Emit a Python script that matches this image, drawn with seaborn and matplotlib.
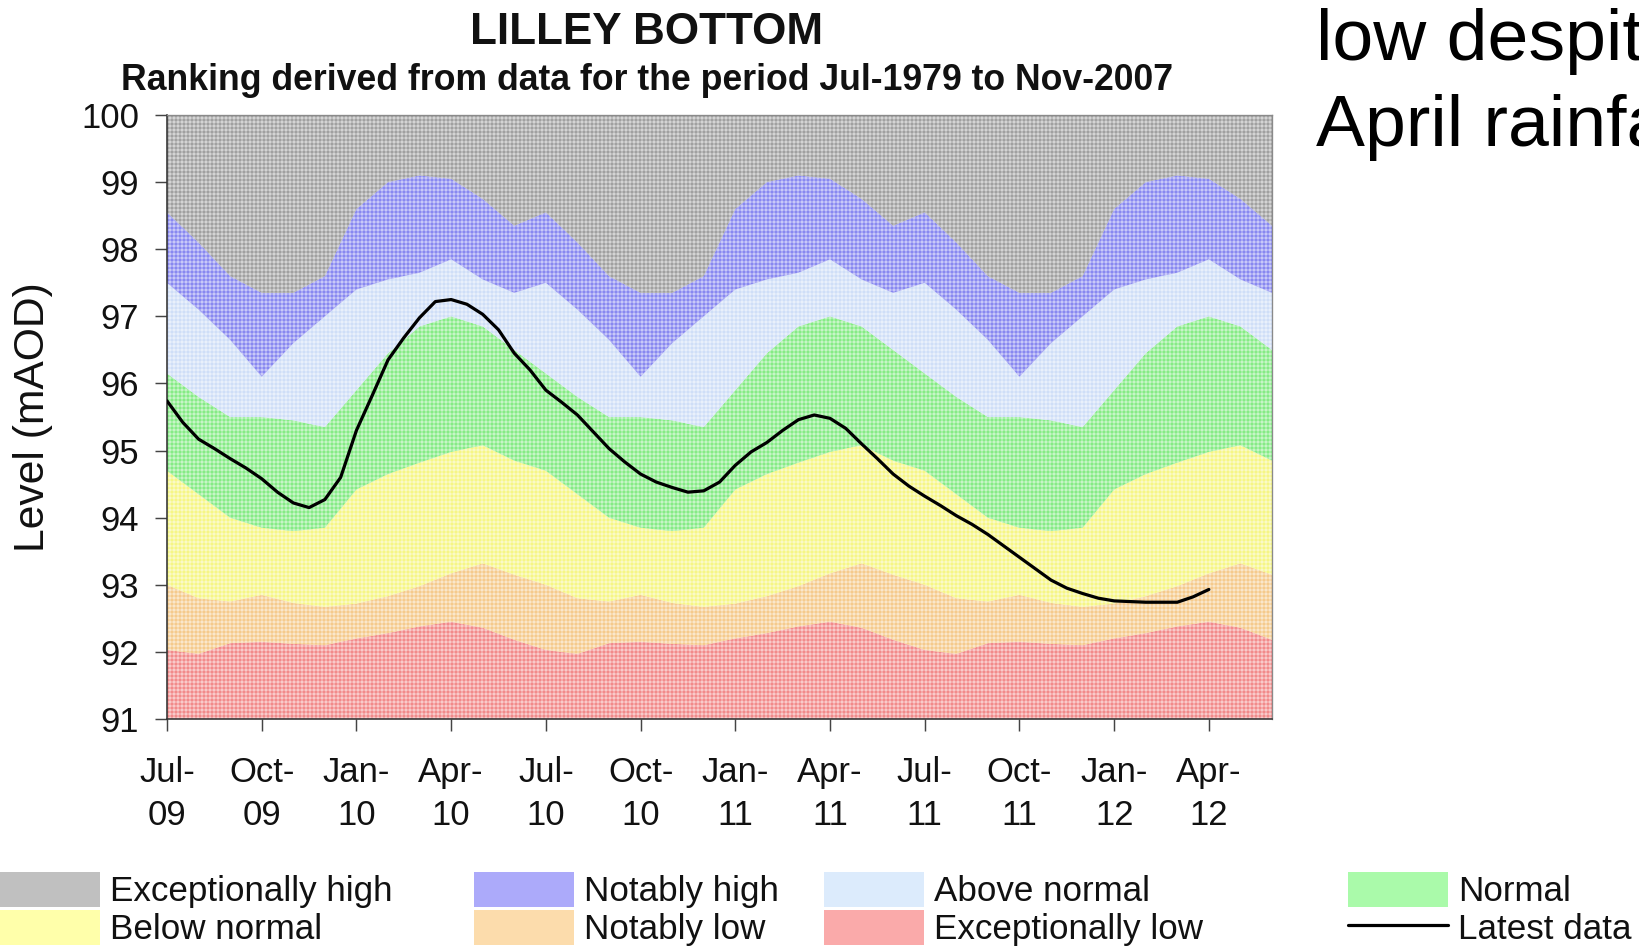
import numpy as np
import pandas as pd
import matplotlib
matplotlib.use("Agg")
import matplotlib.pyplot as plt
import seaborn as sns
from matplotlib.patches import Patch
from matplotlib.lines import Line2D

# ---------------- data ----------------
# seasonal band boundaries (mAOD), months Jul..Jun
season_months = ["Jul", "Aug", "Sep", "Oct", "Nov", "Dec", "Jan", "Feb", "Mar", "Apr", "May", "Jun"]
exc_low_top = [92.03, 91.97, 92.13, 92.15, 92.12, 92.10, 92.20, 92.28, 92.38, 92.45, 92.36, 92.18]
notably_low_top = [93.00, 92.80, 92.75, 92.85, 92.73, 92.67, 92.72, 92.83, 92.98, 93.17, 93.32, 93.15]
below_normal_top = [94.70, 94.35, 94.00, 93.85, 93.80, 93.85, 94.42, 94.65, 94.82, 94.98, 95.08, 94.85]
normal_top = [96.15, 95.80, 95.50, 95.50, 95.45, 95.35, 95.90, 96.45, 96.85, 97.00, 96.85, 96.50]
above_normal_top = [97.50, 97.10, 96.65, 96.10, 96.60, 97.00, 97.40, 97.55, 97.65, 97.85, 97.55, 97.35]
notably_high_top = [98.55, 98.10, 97.60, 97.35, 97.35, 97.60, 98.60, 99.00, 99.10, 99.05, 98.75, 98.35]
n_years = 3  # Jul-2009 .. Jun-2012

# latest data, twice a month (1st and mid-month), Jul-2009 .. Apr-2012
latest_month_offset = [m / 2 for m in range(67)]  # months since 1 Jul 2009
latest_data = [
    95.74, 95.42, 95.17, 95.03, 94.88, 94.74, 94.58, 94.38, 94.22, 94.15, 94.27, 94.60,   # Jul-09..Dec-09
    95.30, 95.82, 96.35, 96.68, 96.98, 97.22, 97.25, 97.18, 97.03, 96.80, 96.45, 96.20,   # Jan-10..Jun-10
    95.90, 95.72, 95.53, 95.28, 95.03, 94.83, 94.65, 94.53, 94.45, 94.38, 94.40, 94.53,   # Jul-10..Dec-10
    94.78, 94.98, 95.12, 95.30, 95.46, 95.53, 95.48, 95.33, 95.10, 94.88, 94.65, 94.47,   # Jan-11..Jun-11
    94.32, 94.18, 94.03, 93.90, 93.75, 93.58, 93.41, 93.24, 93.07, 92.95, 92.87, 92.80,   # Jul-11..Dec-11
    92.76, 92.75, 92.74, 92.74, 92.74, 92.82, 92.93]                                      # Jan-12..Apr-12

tick_labels = ["Jul-\n09", "Oct-\n09", "Jan-\n10", "Apr-\n10", "Jul-\n10", "Oct-\n10",
               "Jan-\n11", "Apr-\n11", "Jul-\n11", "Oct-\n11", "Jan-\n12", "Apr-\n12"]

band_names = ["Exceptionally low", "Notably low", "Below normal", "Normal",
              "Above normal", "Notably high", "Exceptionally high"]
band_face = ["#f28a8a", "#f5ca8c", "#f6f685", "#85eb85", "#cfdef7", "#8888f0", "#a0a0a0"]
legend_face = {"Exceptionally high": "#c0c0c0", "Notably high": "#acaafa",
               "Above normal": "#dcebfc", "Normal": "#aafaaa",
               "Below normal": "#ffffaa", "Notably low": "#fcdcac",
               "Exceptionally low": "#faaaaa"}

# ---------------- figure ----------------
W, H, DPI = 1639, 948, 96
sns.set_style("ticks")
plt.rcParams["font.family"] = ["Liberation Sans", "DejaVu Sans"]
plt.rcParams["hatch.linewidth"] = 0.75

fig = plt.figure(figsize=(W / DPI, H / DPI), dpi=DPI)
ax = fig.add_axes([167 / W, 1 - 719 / H, 1105 / W, 604 / H])

n_months = 12 * n_years
x = np.arange(n_months)
bounds = [np.full(n_months, 91.0)]
for b in [exc_low_top, notably_low_top, below_normal_top, normal_top,
          above_normal_top, notably_high_top]:
    bounds.append(np.tile(b, n_years))
bounds.append(np.full(n_months, 100.0))

for i, name in enumerate(band_names):
    ax.fill_between(x, bounds[i], bounds[i + 1], facecolor=band_face[i],
                    edgecolor=(1, 1, 1, 0.55), hatch="++++", linewidth=0, zorder=1)

df = pd.DataFrame({"month": latest_month_offset, "level": latest_data})
sns.lineplot(data=df, x="month", y="level", color="black", linewidth=2.4,
             ax=ax, zorder=5, legend=False)

ax.set_xlim(0, n_months - 1)
ax.set_ylim(91, 100)
ax.set_yticks(range(91, 101))
ax.set_xticks(range(0, len(tick_labels) * 3, 3))
ax.set_xticklabels(tick_labels, linespacing=1.38)
ax.set_xlabel("")
ax.set_ylabel("")
ax.tick_params(axis="both", direction="out", length=9, width=1.1, color="#444444",
               labelsize=26, labelcolor="#111111")
ax.tick_params(axis="x", pad=19)
ax.tick_params(axis="y", pad=12)
for s in ["left", "bottom"]:
    ax.spines[s].set_color("#333333")
    ax.spines[s].set_linewidth(1.2)
for s in ["top", "right"]:
    ax.spines[s].set_visible(True)
    ax.spines[s].set_color("#8a8a8a")
    ax.spines[s].set_linewidth(1.0)

fig.text(647 / W, 1 - 44 / H, "LILLEY BOTTOM", ha="center", va="baseline",
         fontsize=33, fontweight="bold", color="#111111")
fig.text(647 / W, 1 - 90 / H,
         "Ranking derived from data for the period Jul-1979 to Nov-2007",
         ha="center", va="baseline", fontsize=26.7, fontweight="bold", color="#111111")
fig.text(33 / W, 1 - 417 / H, "Level (mAOD)", rotation=90, ha="center", va="center",
         fontsize=32, color="#111111")

fig.text(1316 / W, 1 - 60 / H, "low despit", ha="left", va="baseline", fontsize=55, color="black")
fig.text(1316 / W, 1 - 146 / H, "April rainfa", ha="left", va="baseline", fontsize=55, color="black")

# legend in four columns
legend_cols = [(0, ["Exceptionally high", "Below normal"]),
               (474, ["Notably high", "Notably low"]),
               (824, ["Above normal", "Exceptionally low"]),
               (1348, ["Normal", "Latest data"])]
fs = 26.25
fs_px = fs * DPI / 72
for xpx, names in legend_cols:
    handles = []
    for nm in names:
        if nm == "Latest data":
            handles.append(Line2D([], [], color="black", linewidth=2.4))
        else:
            handles.append(Patch(facecolor=legend_face[nm], edgecolor="none"))
    leg = fig.legend(handles, names, loc="upper left",
                     bbox_to_anchor=(xpx / W, 1 - 872 / H), bbox_transform=fig.transFigure,
                     frameon=False, fontsize=fs, borderpad=0, borderaxespad=0,
                     handlelength=100 / fs_px, handleheight=40 / fs_px,
                     handletextpad=0.3, labelspacing=0.06)
    for t in leg.get_texts():
        t.set_color("#111111")

fig.savefig("out.png", dpi=DPI)
